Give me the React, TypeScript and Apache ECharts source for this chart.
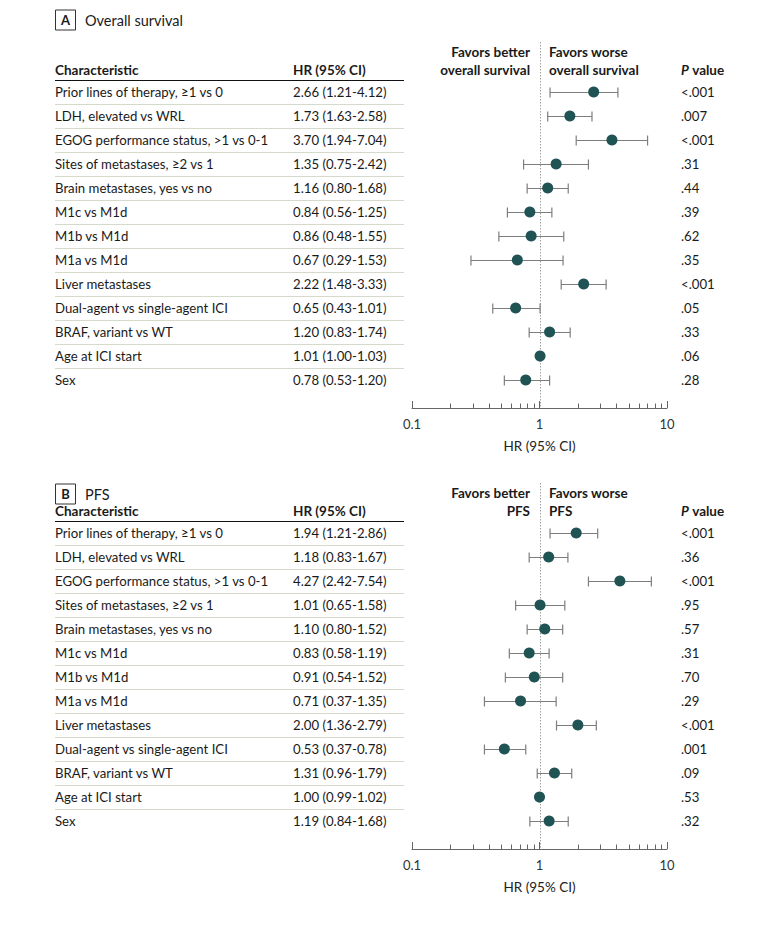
import React, { useEffect, useRef } from "react";
import * as echarts from "echarts";

// ---------- data ----------
const characteristics = [
  "Prior lines of therapy, ≥1 vs 0",
  "LDH, elevated vs WRL",
  "EGOG performance status, >1 vs 0-1",
  "Sites of metastases, ≥2 vs 1",
  "Brain metastases, yes vs no",
  "M1c vs M1d",
  "M1b vs M1d",
  "M1a vs M1d",
  "Liver metastases",
  "Dual-agent vs single-agent ICI",
  "BRAF, variant vs WT",
  "Age at ICI start",
  "Sex",
];

// Panel A: overall survival
const osHR = [2.66, 1.73, 3.7, 1.35, 1.16, 0.84, 0.86, 0.67, 2.22, 0.65, 1.2, 1.01, 0.78];
const osLower = [1.21, 1.16, 1.94, 0.75, 0.8, 0.56, 0.48, 0.29, 1.48, 0.43, 0.83, 1.0, 0.53];
const osUpper = [4.12, 2.58, 7.04, 2.42, 1.68, 1.25, 1.55, 1.53, 3.33, 1.01, 1.74, 1.03, 1.2];
const osText = [
  "2.66 (1.21-4.12)",
  "1.73 (1.63-2.58)",
  "3.70 (1.94-7.04)",
  "1.35 (0.75-2.42)",
  "1.16 (0.80-1.68)",
  "0.84 (0.56-1.25)",
  "0.86 (0.48-1.55)",
  "0.67 (0.29-1.53)",
  "2.22 (1.48-3.33)",
  "0.65 (0.43-1.01)",
  "1.20 (0.83-1.74)",
  "1.01 (1.00-1.03)",
  "0.78 (0.53-1.20)",
];
const osP = ["<.001", ".007", "<.001", ".31", ".44", ".39", ".62", ".35", "<.001", ".05", ".33", ".06", ".28"];

// Panel B: PFS
const pfsHR = [1.94, 1.18, 4.27, 1.01, 1.1, 0.83, 0.91, 0.71, 2.0, 0.53, 1.31, 1.0, 1.19];
const pfsLower = [1.21, 0.83, 2.42, 0.65, 0.8, 0.58, 0.54, 0.37, 1.36, 0.37, 0.96, 0.99, 0.84];
const pfsUpper = [2.86, 1.67, 7.54, 1.58, 1.52, 1.19, 1.52, 1.35, 2.79, 0.78, 1.79, 1.02, 1.68];
const pfsText = [
  "1.94 (1.21-2.86)",
  "1.18 (0.83-1.67)",
  "4.27 (2.42-7.54)",
  "1.01 (0.65-1.58)",
  "1.10 (0.80-1.52)",
  "0.83 (0.58-1.19)",
  "0.91 (0.54-1.52)",
  "0.71 (0.37-1.35)",
  "2.00 (1.36-2.79)",
  "0.53 (0.37-0.78)",
  "1.31 (0.96-1.79)",
  "1.00 (0.99-1.02)",
  "1.19 (0.84-1.68)",
];
const pfsP = ["<.001", ".36", "<.001", ".95", ".57", ".31", ".70", ".29", "<.001", ".001", ".09", ".53", ".32"];

const majorTicks = [0.1, 1, 10];
const minorTicks = [0.2, 0.3, 0.4, 0.5, 0.6, 0.7, 0.8, 0.9, 2, 3, 4, 5, 6, 7, 8, 9];

// ---------- style ----------
const FONT = "Lato, 'Noto Sans', sans-serif";
const TEXT = "#1a1a1a";
const DOT = "#1f5354";
const BAR = "#7d7d7d";
const SEP = "#d6dacb";
const TABLE_L = 55;
const TABLE_R = 404;
const HR_X = 293;
const AXIS_DROP = 16;
const ROW_FS = 13.2;

function panel(
  gi: number,
  top: number,
  titleOffset: number,
  hr: number[],
  lo: number[],
  hi: number[],
  txt: string[],
  pv: string[],
  letter: string,
  title: string,
  favorWord: string
) {
  const gridLeft = 412;
  const gridWidth = 255;
  const gridHeight = characteristics.length * 24;
  const grid = { left: gridLeft, top, width: gridWidth, height: gridHeight };

  const xAxis = {
    type: "log",
    logBase: 10,
    min: 0.1,
    max: 10,
    gridIndex: gi,
    offset: AXIS_DROP,
    axisLine: { show: true, lineStyle: { color: "#666", width: 1 } },
    axisTick: { show: true, inside: true, length: 7, lineStyle: { color: "#666" } },
    axisLabel: {
      color: "#333",
      fontFamily: FONT,
      fontSize: 13,
      margin: 9,
      formatter: (v: number) => (majorTicks.some((m) => Math.abs(m - v) < 1e-9) ? String(v) : ""),
    },
    splitLine: { show: false },
    name: "HR (95% CI)",
    nameLocation: "middle",
    nameGap: 31,
    nameTextStyle: { color: "#222", fontFamily: FONT, fontSize: 13.5 },
  };

  const baseY = {
    type: "category",
    gridIndex: gi,
    inverse: true,
    axisLine: { show: false },
    axisTick: { show: false },
    splitLine: { show: false },
  };
  const yAxes = [
    {
      ...baseY,
      position: "left",
      data: characteristics,
      axisLabel: { interval: 0, align: "left", margin: gridLeft - TABLE_L, color: TEXT, fontFamily: FONT, fontSize: ROW_FS },
    },
    {
      ...baseY,
      position: "left",
      data: txt,
      axisLabel: { interval: 0, align: "left", margin: gridLeft - HR_X, color: TEXT, fontFamily: FONT, fontSize: ROW_FS },
    },
    {
      ...baseY,
      position: "right",
      data: pv,
      axisLabel: { interval: 0, align: "left", margin: 14, color: TEXT, fontFamily: FONT, fontSize: ROW_FS },
    },
  ];

  const yi = gi * 3;
  const series: any[] = [
    {
      type: "custom",
      xAxisIndex: gi,
      yAxisIndex: yi,
      silent: true,
      clip: false,
      data: characteristics.map((_, i) => [1, i]),
      renderItem: (params: any, api: any) => {
        const i = api.value(1);
        if (i >= characteristics.length - 1) return null;
        const c = api.coord([1, i]);
        const band = api.size([0, 1])[1];
        const y = Math.round(c[1] + band / 2) + 0.5;
        return {
          type: "line",
          shape: { x1: TABLE_L, y1: y, x2: TABLE_R, y2: y },
          style: { stroke: SEP, lineWidth: 1 },
        };
      },
    },
    {
      type: "custom",
      xAxisIndex: gi,
      yAxisIndex: yi,
      silent: true,
      clip: false,
      data: [[1, 0]],
      renderItem: (params: any, api: any) => {
        const cs = params.coordSys;
        const x = Math.round(api.coord([api.value(0), 0])[0]) + 0.5;
        return {
          type: "line",
          shape: { x1: x, y1: cs.y - 38, x2: x, y2: cs.y + cs.height + AXIS_DROP },
          style: { stroke: "#a0a0a0", lineWidth: 1, lineDash: [1.5, 1.5] },
        };
      },
    },
    {
      type: "custom",
      xAxisIndex: gi,
      yAxisIndex: yi,
      silent: true,
      clip: false,
      data: minorTicks.map((v) => [v, 0]),
      renderItem: (params: any, api: any) => {
        const cs = params.coordSys;
        const x = Math.round(api.coord([api.value(0), 0])[0]) + 0.5;
        const y = cs.y + cs.height + AXIS_DROP;
        return {
          type: "line",
          shape: { x1: x, y1: y - 4.5, x2: x, y2: y },
          style: { stroke: "#666", lineWidth: 1 },
        };
      },
    },
    {
      type: "custom",
      xAxisIndex: gi,
      yAxisIndex: yi,
      silent: true,
      clip: false,
      data: lo.map((l, i) => [l, hi[i], i]),
      renderItem: (params: any, api: any) => {
        const a = api.coord([api.value(0), api.value(2)]);
        const b = api.coord([api.value(1), api.value(2)]);
        const y = Math.round(a[1]) + 0.5;
        const h = 5;
        const st = { stroke: BAR, lineWidth: 1.2 };
        return {
          type: "group",
          children: [
            { type: "line", shape: { x1: a[0], y1: y, x2: b[0], y2: y }, style: st },
            { type: "line", shape: { x1: a[0], y1: y - h, x2: a[0], y2: y + h }, style: st },
            { type: "line", shape: { x1: b[0], y1: y - h, x2: b[0], y2: y + h }, style: st },
          ],
        };
      },
    },
    {
      type: "scatter",
      xAxisIndex: gi,
      yAxisIndex: yi,
      symbol: "circle",
      symbolSize: 11,
      itemStyle: { color: DOT, opacity: 1 },
      data: hr.map((v, i) => [v, i]),
      silent: true,
    },
  ];

  const bold = { fontFamily: FONT, fontSize: 13.5, fontWeight: "bold", fill: TEXT };
  const headY = top - 10;
  const titleY = top - titleOffset;
  const graphic: any[] = [
    {
      type: "rect",
      shape: { x: 55.5, y: titleY - 10, width: 20, height: 20 },
      style: { fill: "#fff", stroke: "#333", lineWidth: 1 },
    },
    {
      type: "text",
      x: 65.5,
      y: titleY,
      style: { text: letter, fontFamily: FONT, fontSize: 13, fontWeight: "bold", fill: TEXT, align: "center", verticalAlign: "middle" },
    },
    {
      type: "text",
      x: 85,
      y: titleY,
      style: { text: title, fontFamily: FONT, fontSize: 14.5, fill: TEXT, align: "left", verticalAlign: "middle" },
    },
    {
      type: "text",
      x: TABLE_L,
      y: headY,
      style: { ...bold, text: "Characteristic", align: "left", verticalAlign: "middle" },
    },
    {
      type: "text",
      x: HR_X,
      y: headY,
      style: { ...bold, text: "HR (95% CI)", align: "left", verticalAlign: "middle" },
    },
    {
      type: "text",
      x: 530,
      y: headY - 9,
      style: { ...bold, text: "Favors better\n" + favorWord, align: "right", verticalAlign: "middle", lineHeight: 18 },
    },
    {
      type: "text",
      x: 549,
      y: headY - 9,
      style: { ...bold, text: "Favors worse\n" + favorWord, align: "left", verticalAlign: "middle", lineHeight: 18 },
    },
    {
      type: "text",
      x: 681,
      y: headY,
      style: {
        text: "{i|P} {b|value}",
        align: "left",
        verticalAlign: "middle",
        rich: {
          i: { ...bold, fontStyle: "italic" },
          b: { ...bold },
        },
      },
    },
    {
      type: "line",
      shape: { x1: TABLE_L, y1: top + 0.5, x2: TABLE_R, y2: top + 0.5 },
      style: { stroke: "#111", lineWidth: 1.2 },
    },
  ];

  return { grid, xAxis, yAxes, series, graphic };
}

export default function App() {
  const ref = useRef<HTMLDivElement>(null);
  useEffect(() => {
    if (!ref.current) return;
    const chart = echarts.init(ref.current, null, { renderer: "svg" });
    const A = panel(0, 80, 60, osHR, osLower, osUpper, osText, osP, "A", "Overall survival", "overall survival");
    const B = panel(1, 521, 27, pfsHR, pfsLower, pfsUpper, pfsText, pfsP, "B", "PFS", "PFS");
    chart.setOption({
      animation: false,
      backgroundColor: "#ffffff",
      textStyle: { fontFamily: FONT },
      grid: [A.grid, B.grid],
      xAxis: [A.xAxis, B.xAxis],
      yAxis: [...A.yAxes, ...B.yAxes],
      series: [...A.series, ...B.series],
      graphic: [...A.graphic, ...B.graphic],
    });
    return () => chart.dispose();
  }, []);
  return <div ref={ref} style={{ width: 780, height: 933, margin: "-8px" }} />;
}
